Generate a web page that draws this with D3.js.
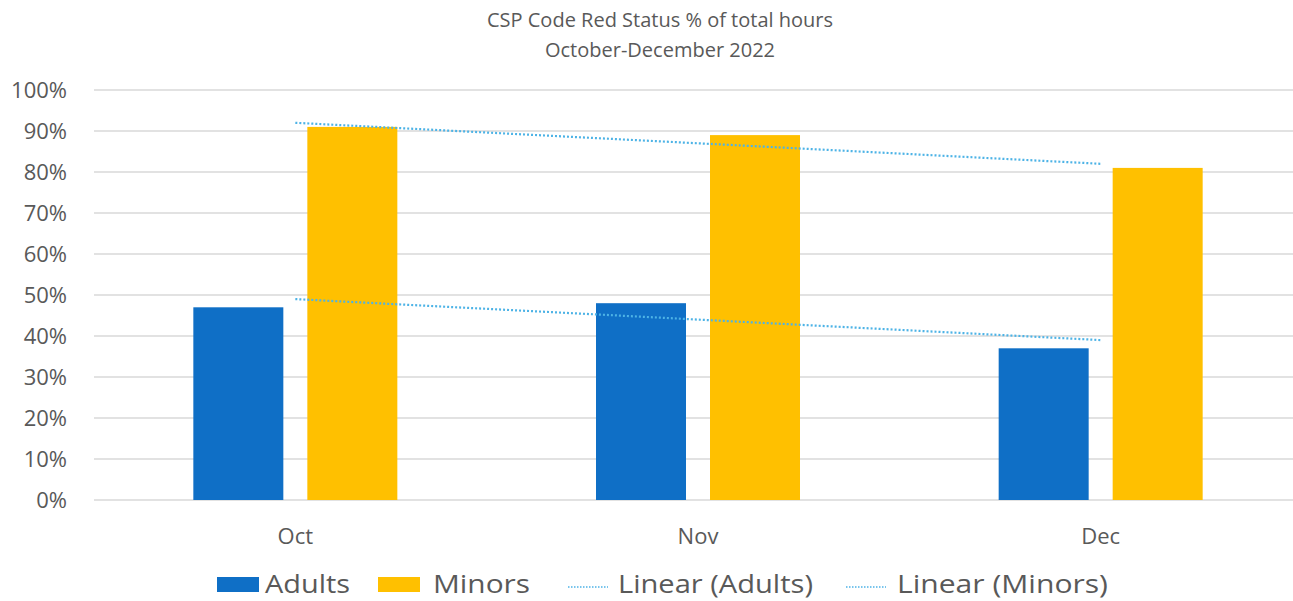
<!DOCTYPE html>
<html>
<head>
<meta charset="utf-8">
<script src="https://cdn.jsdelivr.net/npm/d3@7"></script>
<style>
	body { margin: 0; background: #fff; }
	svg text { font-family: "Open Sans", sans-serif; fill: #595959; }
</style>
</head>
<body>
<div id="chart"></div>
<script>
// CSP Code Red chart
///

const months = ["Oct", "Nov", "Dec"];
const adults = [47, 48, 37];
const minors = [91, 89, 81];
const yTicks = [0, 10, 20, 30, 40, 50, 60, 70, 80, 90, 100];
const titleLines = ["CSP Code Red Status % of total hours", "October-December 2022"];

const w = 1293, h = 601;
const blue = "#0f6fc6", gold = "#ffc000", trendColor = "#4db3e6";

let svg = d3.select("#chart").append("svg")
	.attr("width", w)
	.attr("height", h);

const x = d3.scaleBand().domain(months).range([94, 1302]);
const y = d3.scaleLinear().domain([0, 100]).range([500, 90]);

// simple least squares line over category index
function linearFit(vals) {
	let xs = vals.map((v, i) => i + 1);
	let mx = d3.mean(xs), my = d3.mean(vals);
	let slope = d3.sum(xs, (xi, i) => (xi - mx) * (vals[i] - my)) / d3.sum(xs, xi => (xi - mx) * (xi - mx));
	return xs.map(xi => my + slope * (xi - mx));
}

// gridlines
svg.append("g").selectAll("line")
	.data(yTicks)
	.enter().append("line")
	.attr("x1", 94).attr("x2", w)
	.attr("y1", d => y(d)).attr("y2", d => y(d))
	.attr("stroke", "#d9d9d9").attr("stroke-width", 1.3);

// y labels
svg.append("g").selectAll("text")
	.data(yTicks)
	.enter().append("text")
	.attr("x", 67).attr("y", d => y(d) + 8)
	.attr("text-anchor", "end")
	.style("font-size", "22px")
	.text(d => d + "%");

// bars
const barW = 90, gap = 24;
const groupOff = (x.bandwidth() - (2 * barW + gap)) / 2;

svg.append("g").selectAll("rect")
	.data(adults)
	.enter().append("rect")
	.attr("x", (d, i) => x(months[i]) + groupOff)
	.attr("y", d => y(d))
	.attr("width", barW)
	.attr("height", d => y(0) - y(d))
	.attr("fill", blue);

svg.append("g").selectAll("rect")
	.data(minors)
	.enter().append("rect")
	.attr("x", (d, i) => x(months[i]) + groupOff + barW + gap)
	.attr("y", d => y(d))
	.attr("width", barW)
	.attr("height", d => y(0) - y(d))
	.attr("fill", gold);

// trend lines
const line = d3.line()
	.x((d, i) => x(months[i]) + x.bandwidth() / 2)
	.y(d => y(d));

[adults, minors].forEach(function(series) {
	svg.append("path")
		.attr("d", line(linearFit(series)))
		.attr("fill", "none")
		.attr("stroke", trendColor)
		.attr("stroke-width", 2.2)
		.attr("stroke-dasharray", "2,2");
});

// x labels
svg.append("g").selectAll("text")
	.data(months)
	.enter().append("text")
	.attr("x", d => x(d) + x.bandwidth() / 2)
	.attr("y", 544)
	.attr("text-anchor", "middle")
	.style("font-size", "22px")
	.text(d => d);

// title
svg.append("g").selectAll("text")
	.data(titleLines)
	.enter().append("text")
	.attr("x", 660)
	.attr("y", (d, i) => 27 + i * 30)
	.attr("text-anchor", "middle")
	.style("font-size", "20px")
	.text(d => d);

// legend
const legendItems = [
	{ name: "Adults", kind: "box", color: blue, x: 217, tx: 265, tw: 85 },
	{ name: "Minors", kind: "box", color: gold, x: 378, tx: 433, tw: 97 },
	{ name: "Linear (Adults)", kind: "line", color: trendColor, x: 568, tx: 618, tw: 195 },
	{ name: "Linear (Minors)", kind: "line", color: trendColor, x: 846, tx: 897, tw: 211 }
];

let lg = svg.append("g");
legendItems.forEach(function(it) {
	if (it.kind == "box")
		lg.append("rect").attr("x", it.x).attr("y", 577).attr("width", 42).attr("height", 15).attr("fill", it.color);
	else
		lg.append("line").attr("x1", it.x).attr("x2", it.x + 40).attr("y1", 587).attr("y2", 587)
			.attr("stroke", it.color).attr("stroke-width", 1.5).attr("stroke-dasharray", "1.5,1.5");
	lg.append("text").attr("x", it.tx).attr("y", 593)
		.style("font-size", "25px")
		.attr("textLength", it.tw)
		.attr("lengthAdjust", "spacingAndGlyphs")
		.text(it.name);
});
</script>
</body>
</html>
